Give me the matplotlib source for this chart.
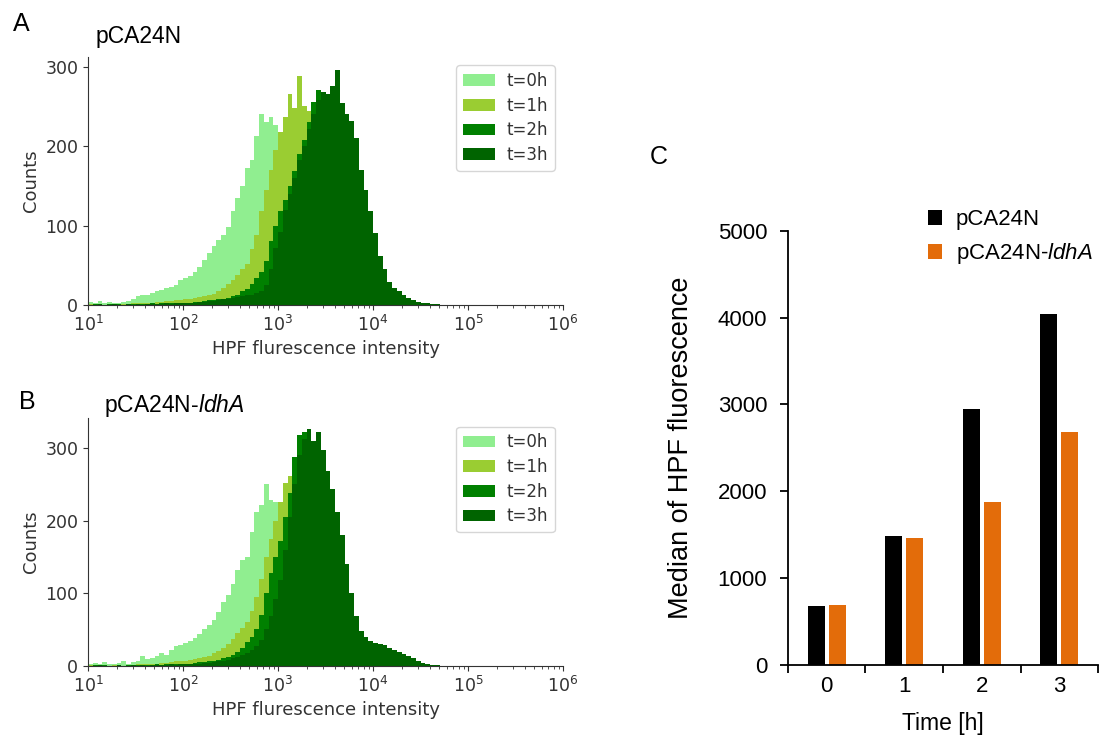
import numpy as np
import matplotlib
matplotlib.use("Agg")
import matplotlib.pyplot as plt
from matplotlib.ticker import LogLocator, NullFormatter, FixedLocator

# histogram bins: 0.05 decade wide, 10^1 .. 10^4.8
log_lo, log_hi, n_bins = 1.0, 4.8, 76

hist_labels = ["t=0h", "t=1h", "t=2h", "t=3h"]
hist_colors = ["lightgreen", "yellowgreen", "green", "darkgreen"]

# pCA24N counts per bin
a_t0 = [4, 3, 5, 2, 4, 3, 2, 4, 5, 7,
        11, 13, 12, 15, 18, 19, 21, 23, 25, 31,
        34, 37, 42, 48, 56, 66, 74, 82, 88, 98,
        118, 135, 150, 172, 182, 212, 240, 230, 236, 226,
        215, 195, 170, 140, 110, 85, 60, 40, 26, 16,
        10, 6, 3, 2, 1, 1, 0, 0, 0, 0,
        0, 0, 0, 0, 0, 0, 0, 0, 0, 0,
        0, 0, 0, 0, 0, 0]
a_t1 = [1, 0, 1, 0, 1, 1, 0, 1, 1, 2,
        2, 2, 3, 3, 4, 4, 5, 5, 6, 6,
        7, 8, 9, 10, 11, 13, 14, 17, 21, 26,
        32, 38, 45, 52, 70, 88, 118, 145, 170, 195,
        218, 236, 265, 248, 288, 250, 244, 225, 205, 180,
        150, 120, 90, 62, 42, 28, 18, 11, 6, 3,
        2, 1, 0, 0, 0, 0, 0, 0, 0, 0,
        0, 0, 0, 0, 0, 0]
a_t2 = [0, 1, 0, 0, 1, 0, 1, 0, 1, 1,
        1, 1, 1, 2, 1, 2, 2, 2, 3, 2,
        3, 3, 4, 4, 5, 6, 6, 7, 8, 9,
        11, 13, 17, 20, 26, 34, 42, 55, 80, 100,
        118, 132, 150, 168, 190, 208, 230, 255, 270, 262,
        255, 240, 220, 195, 170, 140, 110, 85, 62, 44,
        30, 20, 13, 8, 5, 3, 2, 1, 0, 0,
        0, 0, 0, 0, 0, 0]
a_t3 = [0, 0, 1, 0, 0, 1, 0, 0, 1, 0,
        1, 0, 1, 1, 1, 1, 2, 1, 2, 2,
        2, 3, 3, 4, 4, 5, 5, 6, 7, 8,
        9, 10, 11, 12, 13, 15, 18, 25, 45, 72,
        92, 120, 140, 160, 182, 200, 222, 240, 258, 268,
        266, 276, 296, 254, 240, 232, 210, 170, 145, 118,
        90, 62, 45, 29, 22, 18, 12, 9, 6, 4,
        3, 2, 1, 1, 0, 0]

# pCA24N-ldhA counts per bin
b_t0 = [3, 4, 2, 5, 3, 2, 4, 6, 3, 5,
        7, 13, 9, 11, 14, 17, 15, 22, 27, 29,
        31, 34, 38, 44, 50, 56, 63, 74, 88, 97,
        112, 132, 146, 150, 185, 212, 222, 250, 228, 226,
        222, 190, 150, 115, 85, 60, 40, 26, 16, 10,
        6, 3, 2, 1, 0, 0, 0, 0, 0, 0,
        0, 0, 0, 0, 0, 0, 0, 0, 0, 0,
        0, 0, 0, 0, 0, 0]
b_t1 = [1, 0, 1, 1, 0, 1, 1, 0, 1, 1,
        2, 2, 3, 2, 3, 4, 4, 5, 6, 6,
        7, 8, 9, 10, 12, 14, 17, 20, 25, 30,
        37, 45, 52, 60, 75, 95, 120, 150, 175, 200,
        225, 252, 262, 255, 240, 215, 185, 150, 115, 85,
        60, 40, 25, 15, 9, 5, 3, 2, 1, 0,
        0, 0, 0, 0, 0, 0, 0, 0, 0, 0,
        0, 0, 0, 0, 0, 0]
b_t2 = [0, 1, 0, 1, 0, 0, 1, 0, 1, 1,
        1, 0, 1, 1, 2, 1, 2, 2, 2, 3,
        3, 3, 4, 5, 5, 6, 7, 8, 10, 12,
        15, 19, 25, 32, 40, 50, 70, 100, 128, 150,
        172, 205, 238, 288, 318, 322, 305, 290, 268, 240,
        210, 175, 140, 105, 75, 52, 40, 32, 27, 23,
        20, 17, 14, 11, 9, 7, 5, 3, 2, 1,
        0, 0, 0, 0, 0, 0]
b_t3 = [0, 0, 1, 0, 0, 0, 1, 0, 0, 1,
        0, 1, 0, 1, 1, 1, 1, 2, 1, 2,
        2, 3, 3, 3, 4, 4, 5, 6, 7, 8,
        10, 12, 15, 18, 22, 27, 36, 50, 68, 92,
        118, 160, 205, 250, 290, 312, 326, 310, 322, 298,
        268, 244, 212, 180, 140, 100, 68, 48, 40, 34,
        31, 30, 28, 25, 22, 19, 16, 13, 10, 7,
        4, 2, 1, 1, 0, 0]

# medians of HPF fluorescence
time_h = [0, 1, 2, 3]
median_pca = [670, 1480, 2950, 4040]
median_ldha = [690, 1460, 1870, 2680]

plt.rcParams["font.family"] = "DejaVu Sans"
plt.rcParams["mathtext.fontset"] = "custom"
plt.rcParams["mathtext.rm"] = "Liberation Sans"
plt.rcParams["mathtext.it"] = "Liberation Sans:italic"

ARIAL = "Liberation Sans"
GREY = "#333333"

fig = plt.figure(figsize=(11.1, 7.36), dpi=100)

edges = np.logspace(log_lo, log_hi, n_bins + 1)


def hist_panel(rect, series, ytop):
    ax = fig.add_axes(rect)
    for counts, col, lab in zip(series, hist_colors, hist_labels):
        ax.stairs(counts, edges, fill=True, color=col, linewidth=0, label=lab)
    ax.set_xscale("log")
    ax.set_xlim(1e1, 1e6)
    ax.set_ylim(0, ytop)
    ax.set_yticks([0, 100, 200, 300])
    ax.xaxis.set_major_locator(LogLocator(base=10, numticks=10))
    ax.xaxis.set_minor_locator(LogLocator(base=10, subs=np.arange(2, 10), numticks=20))
    ax.xaxis.set_minor_formatter(NullFormatter())
    for s in ["top", "right"]:
        ax.spines[s].set_visible(False)
    for s in ["left", "bottom"]:
        ax.spines[s].set_color(GREY)
    ax.tick_params(colors=GREY, labelsize=12.5, which="both")
    ax.set_xlabel("HPF flurescence intensity", fontsize=13, color=GREY)
    ax.set_ylabel("Counts", fontsize=13, color=GREY)
    leg = ax.legend(loc="upper right", fontsize=12, labelspacing=0.4,
                    handlelength=1.9, handletextpad=0.7, borderpad=0.4)
    for t in leg.get_texts():
        t.set_color(GREY)
    return ax


ax_a = hist_panel([0.0793, 0.5856, 0.4279, 0.3370], [a_t0, a_t1, a_t2, a_t3], 312)
ax_b = hist_panel([0.0793, 0.0955, 0.4279, 0.3361], [b_t0, b_t1, b_t2, b_t3], 341)

# panel C: bar chart of medians
ax_c = fig.add_axes([0.7099, 0.0971, 0.2793, 0.5890])
x = np.arange(len(time_h))
w = 0.22
ax_c.bar(x - 0.135, median_pca, w, color="black", label="pCA24N")
ax_c.bar(x + 0.135, median_ldha, w, color="#E36C0A", label=r"pCA24N-$\mathit{ldhA}$")
ax_c.set_xlim(-0.5, len(time_h) - 0.5)
ax_c.set_ylim(0, 5000)
ax_c.set_yticks(range(0, 5001, 1000))
ax_c.set_xticks(x)
ax_c.set_xticklabels([str(t) for t in time_h])
ax_c.xaxis.set_minor_locator(FixedLocator(np.arange(-0.5, len(time_h), 1.0)))
for s in ["top", "right"]:
    ax_c.spines[s].set_visible(False)
for s in ["left", "bottom"]:
    ax_c.spines[s].set_linewidth(1.3)
ax_c.tick_params(axis="y", length=6, width=1.3, pad=9, labelsize=16,
                 labelfontfamily=ARIAL)
ax_c.tick_params(axis="x", which="major", length=0, pad=8, labelsize=16,
                 labelfontfamily=ARIAL)
ax_c.tick_params(axis="x", which="minor", length=6, width=1.3)
ax_c.set_xlabel("Time [h]", fontsize=16.5, family=ARIAL, labelpad=11)
ax_c.set_ylabel("Median of HPF fluorescence", fontsize=19.5, family=ARIAL, labelpad=17)
ax_c.legend(loc="upper left", bbox_to_anchor=(0.836, 0.716),
            bbox_transform=fig.transFigure, frameon=False, borderpad=0,
            borderaxespad=0, handlelength=0.65, handleheight=0.65,
            handletextpad=0.6, labelspacing=0.5,
            prop={"family": ARIAL, "size": 16})

# panel letters and titles
fig.text(0.0189, 0.9674, "A", fontsize=18, family=ARIAL, ha="center", va="center")
fig.text(0.0243, 0.4538, "B", fontsize=18, family=ARIAL, ha="center", va="center")
fig.text(0.5937, 0.7867, "C", fontsize=18, family=ARIAL, ha="center", va="center")
fig.text(0.086, 0.9416, "pCA24N", fontsize=16.5, family=ARIAL, va="baseline")
fig.text(0.0937, 0.4402, r"pCA24N-$\mathit{ldhA}$", fontsize=16.5, family=ARIAL,
         va="baseline")

fig.savefig("out.png", dpi=100)
